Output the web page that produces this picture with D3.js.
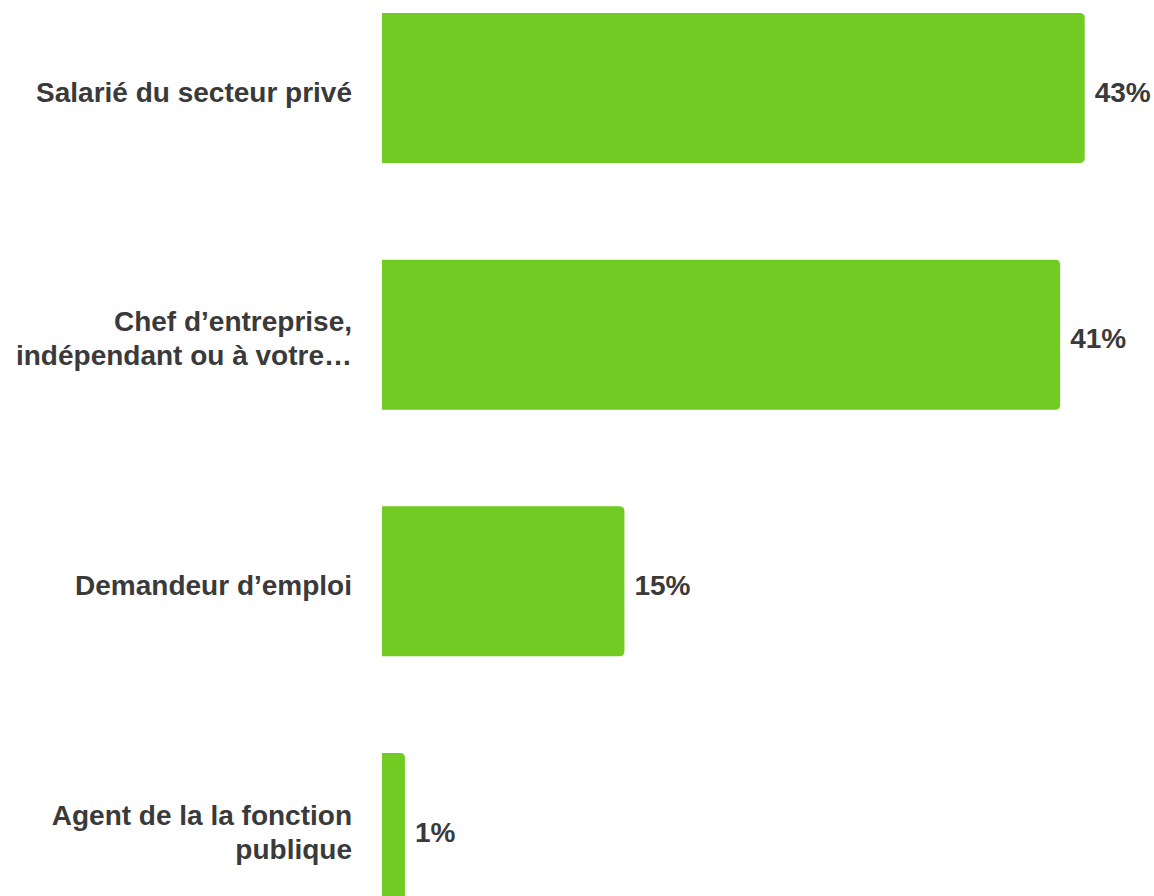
<!DOCTYPE html>
<html><head><meta charset="utf-8">
<script src="https://cdn.jsdelivr.net/npm/d3@7"></script>
<style>body{margin:0;background:#fff}svg{display:block}</style>
</head><body>
<script>
const categories = [
  ["Salarié du secteur privé"],
  ["Chef d’entreprise,", "indépendant ou à votre…"],
  ["Demandeur d’emploi"],
  ["Agent de la la fonction", "publique"]
];
const values = [42.9, 41.4, 14.8, 1.4];
const valueLabels = ["43%", "41%", "15%", "1%"];

const W = 1154, H = 896;
const svg = d3.select("body").append("svg").attr("width", W).attr("height", H);
const x = d3.scaleLinear().domain([0, 50]).range([382, 382 + 819]);
const y = d3.scaleBand().domain(d3.range(values.length)).range([13, 903]).paddingInner(0.392).paddingOuter(0);
const color = "#72CB22", textColor = "#3a3a3a";
const r = 5;
function barPath(x0, x1, y0, h) {
  const rr = Math.min(r, (x1 - x0));
  return `M${x0},${y0}H${x1 - rr}Q${x1},${y0} ${x1},${y0 + rr}V${y0 + h - rr}Q${x1},${y0 + h} ${x1 - rr},${y0 + h}H${x0}Z`;
}
const bw = y.bandwidth();
const g = svg.append("g");
g.selectAll("path.bar").data(values).join("path")
  .attr("class", "bar")
  .attr("fill", color)
  .attr("d", (d, i) => barPath(x(0), x(d), y(i), bw));

const font = "'Liberation Sans', Arial, sans-serif";
const fs = 28;
g.selectAll("text.val").data(values).join("text")
  .attr("class", "val")
  .attr("x", d => x(d) + 10)
  .attr("y", (d, i) => y(i) + bw / 2 + 4)
  .attr("dy", "0.35em")
  .attr("font-family", font).attr("font-weight", "bold").attr("font-size", fs)
  .attr("fill", textColor)
  .text((d, i) => valueLabels[i]);

const lh = 34;
categories.forEach((lines, i) => {
  const cy = y(i) + bw / 2 + 4;
  const t = g.append("text")
    .attr("text-anchor", "end")
    .attr("font-family", font).attr("font-weight", "bold").attr("font-size", fs)
    .attr("fill", textColor);
  lines.forEach((ln, j) => {
    t.append("tspan").attr("x", 352)
      .attr("y", cy + (j - (lines.length - 1) / 2) * lh)
      .attr("dy", "0.35em").text(ln);
  });
});
</script>
</body></html>
